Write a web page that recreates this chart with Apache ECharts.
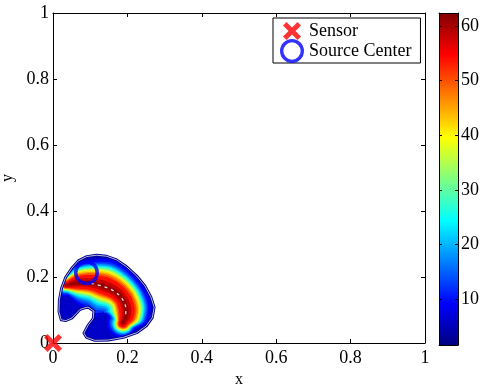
<!DOCTYPE html>
<html>
<head>
<meta charset="utf-8">
<script src="https://cdn.jsdelivr.net/npm/echarts@6/dist/echarts.min.js"></script>
<style>
  html, body { margin: 0; padding: 0; background: #fff; }
  #chart { width: 483px; height: 388px; }
</style>
</head>
<body>
<div id="chart"></div>
<script>
// marker positions
var sensorPos = [0, 0];
var sourceCenter = [0.09, 0.213];

// ridge of the field (dark red core of the plume)
var ridgeX = [0.036, 0.066, 0.102, 0.137, 0.167, 0.187, 0.196, 0.195, 0.187];
var ridgeY = [0.175, 0.181, 0.181, 0.171, 0.155, 0.132, 0.103, 0.079, 0.061];

// outermost contour (with the notch towards the sensor)
var edgeX = [0.050, 0.068, 0.091, 0.117, 0.144, 0.171, 0.198, 0.225, 0.247, 0.263, 0.272, 0.267, 0.251, 0.225, 0.189, 0.149, 0.113,
             0.090, 0.083, 0.094, 0.108, 0.110, 0.094, 0.073, 0.051, 0.035, 0.022,
             0.016, 0.017, 0.023, 0.034];
var edgeY = [0.226, 0.249, 0.262, 0.266, 0.263, 0.252, 0.231, 0.203, 0.173, 0.140, 0.108, 0.077, 0.052, 0.031, 0.017, 0.009, 0.008,
             0.017, 0.030, 0.053, 0.074, 0.097, 0.109, 0.102, 0.076, 0.068, 0.070,
             0.095, 0.130, 0.166, 0.199];

// contour levels around the ridge, low to high
var levels = [9, 12, 15, 18, 22, 26, 30, 34, 38, 42, 46, 50, 54, 58, 61];
var outerLevel = 6;

// colorbar
var cbMin = 1.6, cbMax = 62.4;
var cbTicks = [10, 20, 30, 40, 50, 60];

var FONT = "'Liberation Serif', 'Times New Roman', serif";

// band shape (style): half width in px on the outer side of the ridge,
// thinning factor along the ridge, and inner side ratio per level
var bandHalfPx = [28, 25, 23.5, 22.2, 21, 19.8, 18.6, 17.4, 16.2, 15, 13.5, 11.8, 9.8, 6, 2.8];
var taper = [0.35, 0.7, 0.85, 1, 0.92, 0.88, 0.9, 0.8, 0.5];
var innerRatio = [1.15, 1.1, 1.05, 1.0, 0.95, 0.9, 0.88, 0.85, 0.82, 0.8, 0.8, 0.8, 0.8, 0.8, 0.8];

function clamp(v) { return Math.max(0, Math.min(1, v)); }
function jet(v) {
    var t = (v - cbMin) / (cbMax - cbMin);
    var r = clamp(1.5 - Math.abs(4 * t - 3));
    var g = clamp(1.5 - Math.abs(4 * t - 2));
    var b = clamp(1.5 - Math.abs(4 * t - 1));
    return 'rgb(' + Math.round(r * 255) + ',' + Math.round(g * 255) + ',' + Math.round(b * 255) + ')';
}

var ridge = ridgeX.map(function (x, i) { return [x, ridgeY[i]]; });
var edge = edgeX.map(function (x, i) { return [x, edgeY[i]]; });

// X and ring symbols (M moves pad the X box)
var crossPath = 'path://M0,0 M24,24 M3,6.5 L6.5,3 L12,8.5 L17.5,3 L21,6.5 L15.5,12 L21,17.5 L17.5,21 L12,15.5 L6.5,21 L3,17.5 L8.5,12 Z';
var ringPath = 'path://M0,12.5 A12.5,12.5 0 1,0 25,12.5 A12.5,12.5 0 1,0 0,12.5 Z M3.5,12.5 A9,9 0 1,1 21.5,12.5 A9,9 0 1,1 3.5,12.5 Z';

var chart = echarts.init(document.getElementById('chart'));

var series = [];

// base fill of outer contour
series.push({
    type: 'custom',
    silent: true,
    data: [[0, 0]],
    z: 1,
    renderItem: function (params, api) {
        var pts = edge.map(function (p) { return api.coord(p); });
        return { type: 'polygon', shape: { points: pts }, style: { fill: jet(outerLevel), stroke: 'none' } };
    }
});

// filled level bands around the ridge
series.push({
    type: 'custom',
    silent: true,
    data: [[0, 0]],
    z: 2,
    renderItem: function (params, api) {
        var P = ridge.map(function (p) { return api.coord(p); });
        var n = P.length;
        var N = P.map(function (p, i) {
            var a = P[Math.max(i - 1, 0)], b = P[Math.min(i + 1, n - 1)];
            var dx = b[0] - a[0], dy = b[1] - a[1], L = Math.sqrt(dx * dx + dy * dy);
            return [dy / L, -dx / L];
        });
        function cap(i, so, si, dir, from, to) {
            var out = [], T = [-N[i][1] * dir, N[i][0] * dir], rt = (so + si) / 2;
            for (var k = 1; k < 8; k++) {
                var th = from + (to - from) * k / 8;
                var c = Math.cos(th), s = Math.sin(th);
                var rn = c * (c > 0 ? so : si);
                out.push([P[i][0] + N[i][0] * rn + T[0] * s * rt, P[i][1] + N[i][1] * rn + T[1] * s * rt]);
            }
            return out;
        }
        var children = levels.map(function (v, k) {
            var w = bandHalfPx[k], ir = innerRatio[k], outer = [], inner = [];
            for (var i = 0; i < n; i++) {
                var so = w * taper[i], si = so * ir;
                outer.push([P[i][0] + N[i][0] * so, P[i][1] + N[i][1] * so]);
                inner.push([P[i][0] - N[i][0] * si, P[i][1] - N[i][1] * si]);
            }
            var soE = w * taper[n - 1], soS = w * taper[0];
            var pts = outer
                .concat(cap(n - 1, soE, soE * ir, 1, 0, Math.PI))
                .concat(inner.reverse())
                .concat(cap(0, soS, soS * ir, -1, Math.PI, 0));
            return { type: 'polygon', shape: { points: pts, smooth: 0.3 }, style: { fill: jet(v), stroke: 'none' } };
        });
        return { type: 'group', children: children };
    }
});

// white top contour dashes on the ridge
series.push({
    type: 'line',
    silent: true,
    data: ridge.slice(2, 8),
    smooth: 0.35,
    symbol: 'none',
    z: 3,
    lineStyle: { color: 'rgba(255,255,255,0.85)', width: 1.3, type: [3, 4] }
});

// white mask outside the outer contour (polygon with a slit) + outline
series.push({
    type: 'custom',
    silent: true,
    data: [[0, 0]],
    z: 4,
    renderItem: function (params, api) {
        var pts = edge.map(function (p) { return api.coord(p); });
        var a = api.coord([-0.2, 0.45]), b = api.coord([0.45, -0.25]);
        var area = 0;
        for (var i = 0; i < pts.length; i++) {
            var p = pts[i], q = pts[(i + 1) % pts.length];
            area += p[0] * q[1] - q[0] * p[1];
        }
        var hole = area > 0 ? pts.slice().reverse() : pts.slice();
        var bl = [a[0], b[1]], best = 0, bestD = Infinity;
        hole.forEach(function (p, k) {
            var dd = (p[0] - bl[0]) * (p[0] - bl[0]) + (p[1] - bl[1]) * (p[1] - bl[1]);
            if (dd < bestD) { bestD = dd; best = k; }
        });
        hole = hole.slice(best).concat(hole.slice(0, best));
        var maskPts = [bl, [a[0], a[1]], [b[0], a[1]], [b[0], b[1]], bl].concat(hole).concat([hole[0], bl]);
        return {
            type: 'group',
            children: [
                { type: 'polygon', shape: { points: maskPts }, style: { fill: '#fff', stroke: 'none' } },
                { type: 'polygon', shape: { points: pts }, style: { fill: 'none', stroke: '#00008c', lineWidth: 2.8, lineJoin: 'round' } },
                { type: 'polygon', shape: { points: pts }, style: { fill: 'none', stroke: 'rgba(255,255,255,0.9)', lineWidth: 0.8, lineJoin: 'round' } }
            ]
        };
    }
});

series.push({
    type: 'scatter',
    name: 'Sensor',
    data: [sensorPos],
    symbol: crossPath,
    symbolSize: 24,
    clip: false,
    z: 12,
    itemStyle: { color: '#ff0000' }
});
series.push({
    type: 'scatter',
    name: 'Source Center',
    data: [sourceCenter],
    symbol: ringPath,
    symbolSize: 25,
    clip: false,
    z: 12,
    itemStyle: { color: '#0000ff' }
});

// colorbar
series.push({
    type: 'custom',
    silent: true,
    xAxisIndex: 2,
    yAxisIndex: 2,
    data: [[0, cbMin]],
    z: 2,
    renderItem: function (params, api) {
        var p0 = api.coord([0, cbMax]), p1 = api.coord([1, cbMin]);
        var stops = [0, 0.125, 0.375, 0.625, 0.875, 1].map(function (t) {
            return { offset: t, color: jet(cbMin + t * (cbMax - cbMin)) };
        });
        return {
            type: 'rect',
            shape: { x: p0[0], y: p0[1], width: p1[0] - p0[0], height: p1[1] - p0[1] },
            style: { fill: new echarts.graphic.LinearGradient(0, 1, 0, 0, stops) }
        };
    }
});

var axisText = { color: '#000', fontFamily: FONT, fontSize: 18 };
var nameText = { color: '#000', fontFamily: FONT, fontSize: 16 };
var blackLine = { color: '#000', width: 1 };

chart.setOption({
    animation: false,
    backgroundColor: '#fff',
    grid: [
        { left: 53, top: 13, width: 372, height: 330, outerBoundsMode: 'none' },
        { left: 439, top: 13, width: 19, height: 332, outerBoundsMode: 'none' }
    ],
    legend: {
        left: 273,
        top: 18,
        orient: 'vertical',
        itemWidth: 24,
        itemHeight: 24,
        itemGap: -4,
        padding: [1, 9, 0, 7],
        backgroundColor: '#fff',
        borderColor: '#000',
        borderWidth: 1,
        selectedMode: false,
        z: 20,
        textStyle: axisText,
        data: ['Sensor', 'Source Center']
    },
    xAxis: [
        {
            gridIndex: 0, type: 'value', min: 0, max: 1, interval: 0.2, position: 'bottom', z: 10,
            axisLine: { onZero: false, lineStyle: blackLine },
            axisTick: { inside: true, length: 4, lineStyle: blackLine },
            axisLabel: Object.assign({ margin: 6 }, axisText),
            splitLine: { show: false },
            name: 'x', nameLocation: 'middle', nameGap: 20, nameTextStyle: nameText
        },
        {
            gridIndex: 0, type: 'value', min: 0, max: 1, interval: 0.2, position: 'top', z: 10,
            axisLine: { onZero: false, lineStyle: blackLine },
            axisTick: { inside: true, length: 4, lineStyle: blackLine },
            axisLabel: { show: false },
            splitLine: { show: false }
        },
        {
            gridIndex: 1, type: 'value', min: 0, max: 1, position: 'bottom', z: 10,
            axisLine: { onZero: false, lineStyle: blackLine },
            axisTick: { show: false }, axisLabel: { show: false }, splitLine: { show: false }
        },
        {
            gridIndex: 1, type: 'value', min: 0, max: 1, position: 'top', z: 10,
            axisLine: { onZero: false, lineStyle: blackLine },
            axisTick: { show: false }, axisLabel: { show: false }, splitLine: { show: false }
        }
    ],
    yAxis: [
        {
            gridIndex: 0, type: 'value', min: 0, max: 1, interval: 0.2, position: 'left', z: 10,
            axisLine: { onZero: false, lineStyle: blackLine },
            axisTick: { inside: true, length: 4, lineStyle: blackLine },
            axisLabel: Object.assign({ margin: 4 }, axisText),
            splitLine: { show: false },
            name: 'y', nameLocation: 'middle', nameGap: 28, nameTextStyle: nameText
        },
        {
            gridIndex: 0, type: 'value', min: 0, max: 1, interval: 0.2, position: 'right', z: 10,
            axisLine: { onZero: false, lineStyle: blackLine },
            axisTick: { inside: true, length: 4, lineStyle: blackLine },
            axisLabel: { show: false },
            splitLine: { show: false }
        },
        {
            gridIndex: 1, type: 'value', min: cbMin, max: cbMax, position: 'left', z: 10,
            axisLine: { onZero: false, lineStyle: blackLine },
            axisTick: { inside: true, length: 3, lineStyle: blackLine, customValues: cbTicks },
            axisLabel: { show: false },
            splitLine: { show: false }
        },
        {
            gridIndex: 1, type: 'value', min: cbMin, max: cbMax, position: 'right', z: 10,
            axisLine: { onZero: false, lineStyle: blackLine },
            axisTick: { inside: true, length: 3, lineStyle: blackLine, customValues: cbTicks },
            axisLabel: Object.assign({ margin: 3, customValues: cbTicks }, axisText),
            splitLine: { show: false }
        }
    ],
    series: series
});
</script>
</body>
</html>
